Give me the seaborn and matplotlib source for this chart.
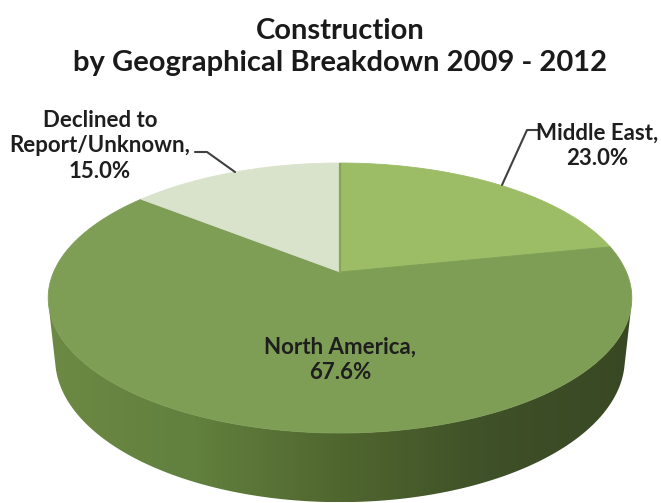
import numpy as np
import matplotlib
matplotlib.use("Agg")
import matplotlib.pyplot as plt
from matplotlib.patches import Polygon
import seaborn as sns

# ---- data ----
regions = ["Middle East", "North America", "Declined to\nReport/Unknown"]
shares = [23.0, 67.6, 15.0]
top_colors = ["#9CBD65", "#7E9E55", "#D9E3CC"]
side_colors = ["#6C8A43", "#62803E", "#50662F", "#3F5128", "#394824"]
title = "Construction\nby Geographical Breakdown 2009 - 2012"

sns.set_theme(style="white")
plt.rcParams["font.family"] = ["Lato", "DejaVu Sans"]

fig = plt.figure(figsize=(6.61, 5.03), dpi=100)
ax = fig.add_axes([0, 0, 1, 1])
ax.set_xlim(0, 661)
ax.set_ylim(503, 0)
ax.axis("off")

# ---- perspective camera for a tilted disc ----
phi = np.radians(27.0)
dist = 4.624
scale = 1324.0
thick = 0.24
cx, cy = 340.0, 272.0


def proj(x, y, z):
    depth = y * np.cos(phi) + dist - z * np.sin(phi)
    u = scale * x / depth
    v = scale * (y * np.sin(phi) + z * np.cos(phi)) / depth
    return cx + u, cy - v


def rim(t0, t1, z, n=200):
    t = np.radians(np.linspace(t0, t1, n))
    return np.column_stack(proj(np.cos(t), np.sin(t), z))


# side wall: visible between the two silhouette generators
s = np.degrees(np.arcsin(-1.0 / (dist * np.cos(phi))))
t_left, t_right = 180.0 - s, 360.0 + s
side = np.vstack([rim(t_left, t_right, 0.0), rim(t_right, t_left, -thick)])
side_patch = Polygon(side, closed=True, facecolor="none", edgecolor="none")
ax.add_patch(side_patch)
cmap = sns.blend_palette(side_colors, as_cmap=True)
grad = np.linspace(0, 1, 256)[None, :]
xmin, xmax = side[:, 0].min(), side[:, 0].max()
ymin, ymax = side[:, 1].min(), side[:, 1].max()
im = ax.imshow(grad, cmap=cmap, extent=(xmin, xmax, ymax, ymin),
               aspect="auto", interpolation="bilinear", zorder=1)
im.set_clip_path(side_patch)

# top faces, clockwise from twelve o'clock
fracs = np.array(shares) / np.sum(shares)
bounds = 90.0 - 360.0 * np.concatenate([[0], np.cumsum(fracs)])
apex = np.array(proj(0.0, 0.0, 0.0))
for i, col in enumerate(top_colors):
    pts = np.vstack([apex, rim(bounds[i], bounds[i + 1], 0.0)])
    ax.add_patch(Polygon(pts, closed=True, facecolor=col, edgecolor=col,
                         linewidth=0.6, zorder=2))

# thin edge along the start of the first slice
top_pt = rim(90, 90, 0.0, n=1)[0]
ax.plot([apex[0], top_pt[0]], [apex[1], top_pt[1]], color="#86A653",
        lw=1.6, zorder=3, solid_capstyle="butt")

# ---- texts ----
txt_kw = dict(fontsize=16, fontweight="bold", color="#1E1E1E",
              ha="center", va="center", linespacing=1.25, zorder=5)
ax.text(340, 47, title, fontsize=21, fontweight="bold", color="#1A1A1A",
        ha="center", va="center", linespacing=1.25)

labels = [f"{r},\n{v:.1f}%" for r, v in zip(regions, shares)]
ax.text(597, 146, labels[0], **txt_kw)
ax.text(340, 360, labels[1], **txt_kw)
ax.text(100, 146, labels[2], **txt_kw)

# leader lines
ax.plot([538, 527, 502], [130, 130, 185], color="#404040", lw=1.5, zorder=4)
ax.plot([195, 207, 235], [152, 152, 172], color="#404040", lw=1.5, zorder=4)

fig.savefig("out.png", dpi=100)
